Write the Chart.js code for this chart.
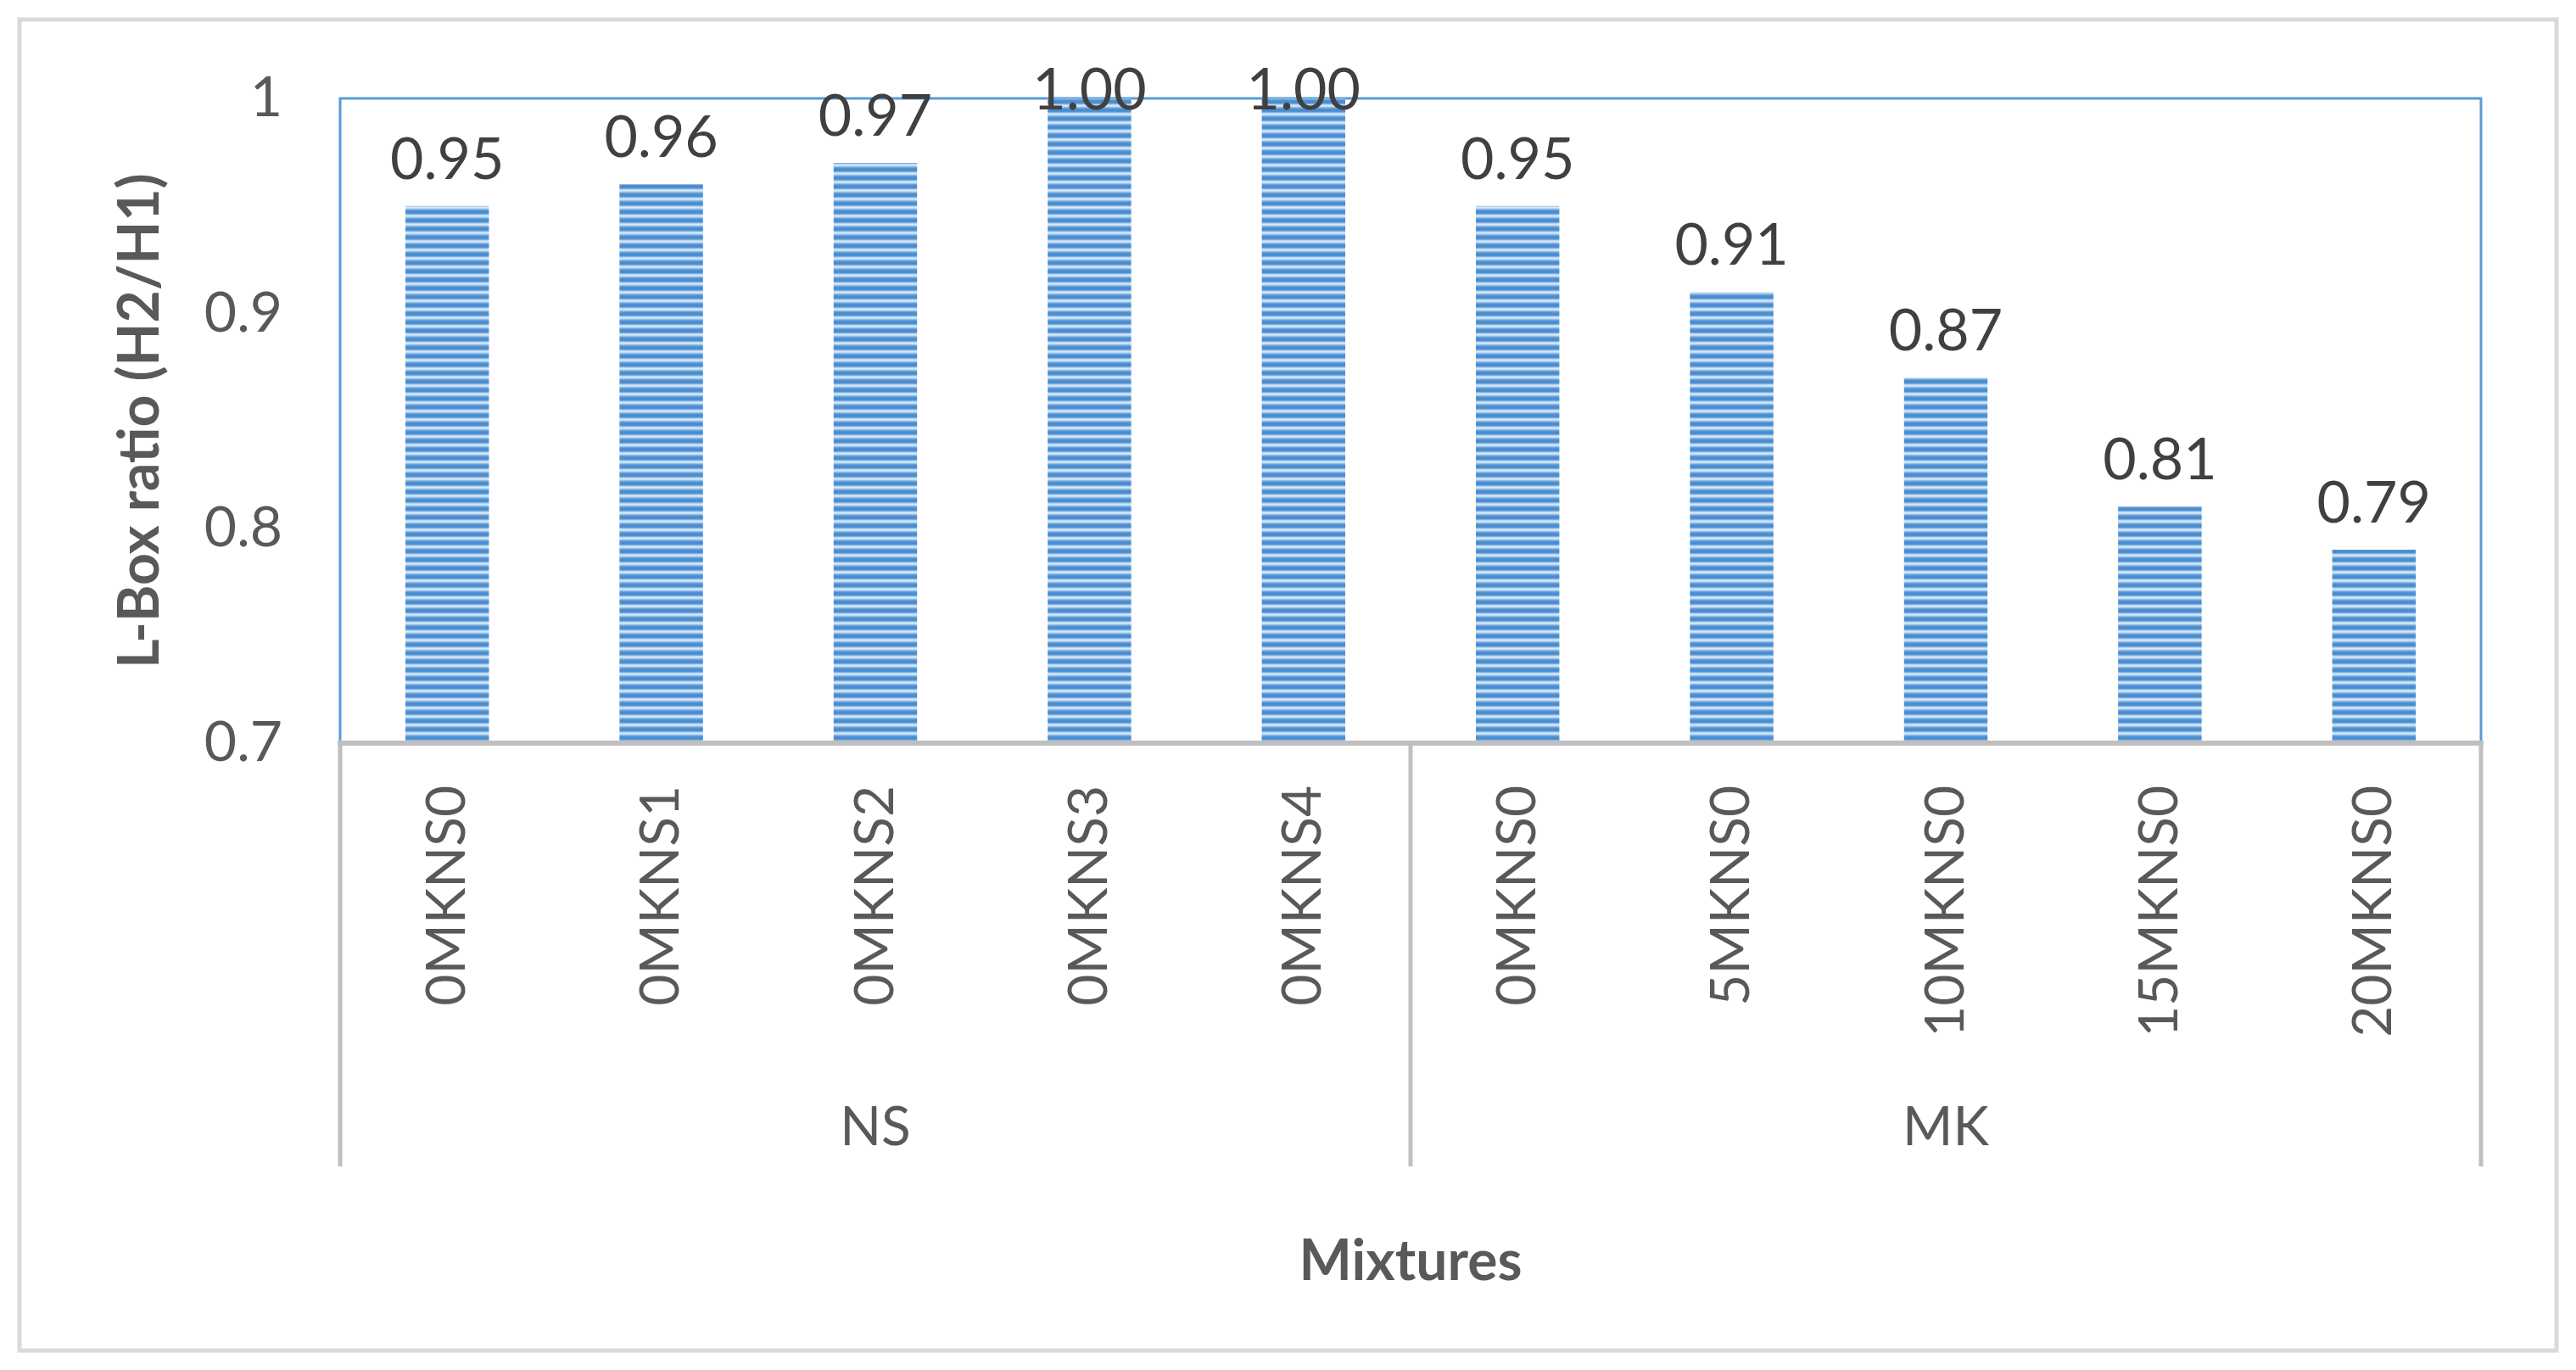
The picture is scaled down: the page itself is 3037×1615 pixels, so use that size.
<!DOCTYPE html>
<html>
<head>
<meta charset="utf-8">
<script src="https://cdn.jsdelivr.net/npm/chart.js@4"></script>
<style>
  html, body { margin: 0; padding: 0; background: #fff; }
  canvas { display: block; }
</style>
</head>
<body>
<canvas id="lbox" width="3037" height="1615"></canvas>
<script>
// Data
const categories = ['0MKNS0', '0MKNS1', '0MKNS2', '0MKNS3', '0MKNS4', '0MKNS0', '5MKNS0', '10MKNS0', '15MKNS0', '20MKNS0'];
const values = [0.95, 0.96, 0.97, 1.00, 1.00, 0.95, 0.91, 0.87, 0.81, 0.79];
const groupNames = ['NS', 'MK'];
const groupSizes = [5, 5];
const yTicks = [0.7, 0.8, 0.9, 1];

const FONT = 'Lato, "Open Sans", sans-serif';
const textGrey = '#595959';

// striped fill like the excel pattern
function stripePattern(ctx) {
    const pc = document.createElement('canvas');
    pc.width = 10;
    pc.height = 10;
    const g = pc.getContext('2d');
    const rows = ['#4a8ccf', '#5093d3', '#7fb0e0', '#b9d4f0', '#d8e8f7', '#c3daf2', '#96bfe7', '#6aa3dc', '#5193d3', '#4a8ccf'];
    rows.forEach((c, i) => {
        g.fillStyle = c;
        g.fillRect(0, i, 10, 1);
    });
    return ctx.createPattern(pc, 'repeat');
}

// frame, plot border, axis line and group separators
const framePlugin = {
    id: 'frame',
    beforeDraw(chart) {
        const ctx = chart.ctx;
        ctx.save();
        ctx.fillStyle = '#fff';
        ctx.fillRect(0, 0, chart.width, chart.height);
        ctx.strokeStyle = '#d9d9d9';
        ctx.lineWidth = 5;
        ctx.strokeRect(23, 23, 2991, 1569);
        ctx.restore();
    },
    beforeDatasetsDraw(chart) {
        const {ctx, chartArea: a} = chart;
        ctx.save();
        ctx.strokeStyle = '#5b9bd5';
        ctx.lineWidth = 3;
        ctx.strokeRect(a.left, a.top, a.right - a.left, a.bottom - a.top);
        ctx.restore();
    },
    afterDatasetsDraw(chart) {
        const {ctx, chartArea: a} = chart;
        const x = chart.scales.x;
        const half = (x.getPixelForValue(1) - x.getPixelForValue(0)) / 2;
        ctx.save();
        // axis line
        ctx.strokeStyle = '#bfbfbf';
        ctx.lineWidth = 6;
        ctx.beginPath();
        ctx.moveTo(a.left - 3, a.bottom);
        ctx.lineTo(a.right + 3, a.bottom);
        ctx.stroke();

        // group separators + names
        ctx.lineWidth = 5;
        ctx.fillStyle = textGrey;
        ctx.font = '64px ' + FONT;
        ctx.textAlign = 'center';
        ctx.textBaseline = 'middle';
        let start = 0;
        const edges = [x.getPixelForValue(0) - half];
        groupNames.forEach((name, gi) => {
            const end = start + groupSizes[gi] - 1;
            const left = x.getPixelForValue(start) - half;
            const right = x.getPixelForValue(end) + half;
            edges.push(right);
            ctx.fillText(name, (left + right) / 2, 1329);
            start = end + 1;
        });
        ctx.beginPath();
        edges.forEach(e => {
            ctx.moveTo(e, a.bottom);
            ctx.lineTo(e, 1375);
        });
        ctx.stroke();

        // value labels
        const meta = chart.getDatasetMeta(0);
        ctx.fillStyle = '#404040';
        ctx.font = '68px ' + FONT;
        meta.data.forEach((bar, i) => {
            const y = Math.max(bar.y - 54, a.top - 9);
            ctx.fillText(values[i].toFixed(2), bar.x, y);
        });
        ctx.restore();
    }
};

const ctx = document.getElementById('lbox').getContext('2d');

const chart = new Chart(ctx, {
    type: 'bar',
    data: {
        labels: categories,
        datasets: [{
            data: values,
            backgroundColor: stripePattern(ctx),
            borderWidth: 0,
            categoryPercentage: 1,
            barPercentage: 0.39
        }]
    },
    options: {
        responsive: false,
        animation: false,
        devicePixelRatio: 1,
        layout: { padding: { top: 116, right: 112, left: 0, bottom: 0 } },
        plugins: {
            legend: { display: false },
            tooltip: { enabled: false }
        },
        scales: {
            x: {
                grid: { display: false, drawTicks: false },
                border: { display: false },
                ticks: {
                    color: textGrey,
                    font: { family: FONT, size: 64 },
                    minRotation: 90,
                    maxRotation: 90,
                    padding: 50,
                    autoSkip: false
                },
                title: {
                    display: true,
                    text: 'Mixtures',
                    color: textGrey,
                    font: { family: FONT, size: 66, weight: 'bold' },
                    padding: { top: 0, bottom: 88 }
                },
                afterFit(scale) { scale.height = 739; }
            },
            y: {
                min: 0.7,
                max: 1,
                grid: { display: false, drawTicks: false },
                border: { display: false },
                afterBuildTicks(scale) {
                    scale.ticks = yTicks.map(v => ({ value: v }));
                },
                ticks: {
                    color: textGrey,
                    font: { family: FONT, size: 66 },
                    padding: 68,
                    callback: v => String(v)
                },
                title: {
                    display: true,
                    text: 'L-Box ratio (H2/H1)',
                    color: textGrey,
                    font: { family: FONT, size: 66, weight: 'bold' },
                    padding: { top: 126, bottom: 0 }
                },
                afterFit(scale) { scale.width = 401; }
            }
        }
    },
    plugins: [framePlugin]
});
</script>
</body>
</html>
